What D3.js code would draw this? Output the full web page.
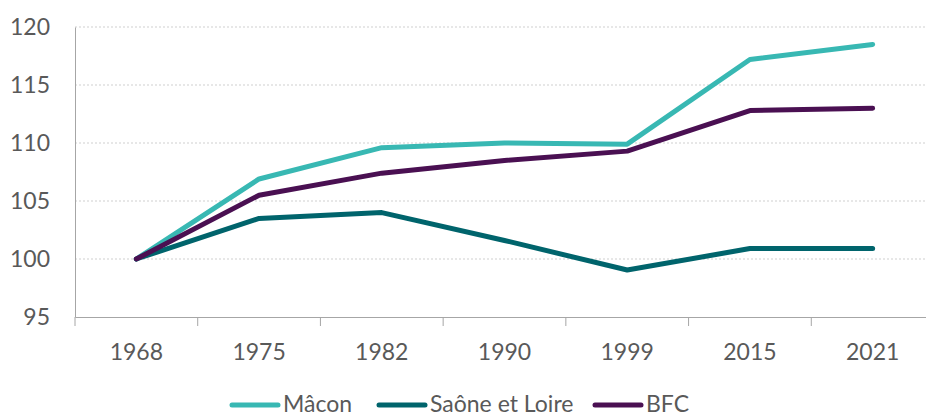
<!DOCTYPE html>
<html>
<head>
<meta charset="utf-8">
<script src="https://d3js.org/d3.v7.min.js"></script>
<style>
body { margin: 0; background: #fff; }
text { font-family: Lato, "Open Sans", sans-serif; fill: #595959; }
</style>
</head>
<body>
<svg id="chart" width="926" height="413"></svg>
<script>

var years = ["1968", "1975", "1982", "1990", "1999", "2015", "2021"]
var macon = [100, 106.9, 109.6, 110.0, 109.9, 117.2, 118.5]
var saone = [100, 103.5, 104.0, 101.6, 99.05, 100.9, 100.9]
var bfc = [100, 105.5, 107.4, 108.5, 109.3, 112.8, 113.0]
var yTicks = [95, 100, 105, 110, 115, 120]

var series = [
  {name: "Mâcon", values: macon, color: "#38b8b3"},
  {name: "Saône et Loire", values: saone, color: "#00646c"},
  {name: "BFC", values: bfc, color: "#4a1052"}
]

var svg = d3.select("#chart")

var x = d3.scaleBand().domain(years).range([75, 934])
var y = d3.scaleLinear().domain([95, 120]).range([317, 27])

// gridlines
svg.append("g").selectAll("line").data(yTicks.slice(1)).join("line")
  .attr("x1", 75).attr("x2", 934)
  .attr("y1", d => y(d)).attr("y2", d => y(d))
  .attr("stroke", "#cfcfcf").attr("stroke-dasharray", "2,2")

// y axis
var yAxis = svg.append("g").attr("transform", "translate(75,0)")
  .call(d3.axisLeft(y).tickValues(yTicks).tickSize(0))
yAxis.select(".domain").attr("stroke", "#a6a6a6")
yAxis.selectAll("text").style("font-size", "23px").attr("x", -25)

// x axis
var xAxis = svg.append("g").attr("transform", "translate(0," + y(95) + ")")
  .call(d3.axisBottom(x).tickSize(0))
xAxis.select(".domain").attr("stroke", "#a6a6a6")
xAxis.selectAll("text").style("font-size", "23px").attr("dy", null).attr("y", 43)
xAxis.append("g").selectAll("line").data(years.concat(["end"])).join("line")
  .attr("x1", (d, i) => 75 + i * x.step()).attr("x2", (d, i) => 75 + i * x.step())
  .attr("y1", 0).attr("y2", 9)
  .attr("stroke", "#a6a6a6")

var line = d3.line()
  .x((d, i) => x(years[i]) + x.bandwidth() / 2)
  .y(d => y(d))

svg.append("g").selectAll("path").data(series).join("path")
  .attr("d", d => line(d.values))
  .attr("fill", "none")
  .attr("stroke", d => d.color)
  .attr("stroke-width", 5)
  .attr("stroke-linejoin", "round")
  .attr("stroke-linecap", "round")

// legend
var legX = [232, 379, 595]
var leg = svg.append("g").selectAll("g").data(series).join("g")
  .attr("transform", (d, i) => "translate(" + legX[i] + ",405)")
leg.append("line")
  .attr("x1", 0).attr("x2", 46)
  .attr("stroke", d => d.color).attr("stroke-width", 5).attr("stroke-linecap", "round")
leg.append("text")
  .attr("x", 51).attr("y", 7)
  .style("font-size", "23px")
  .text(d => d.name)

</script>
</body>
</html>
